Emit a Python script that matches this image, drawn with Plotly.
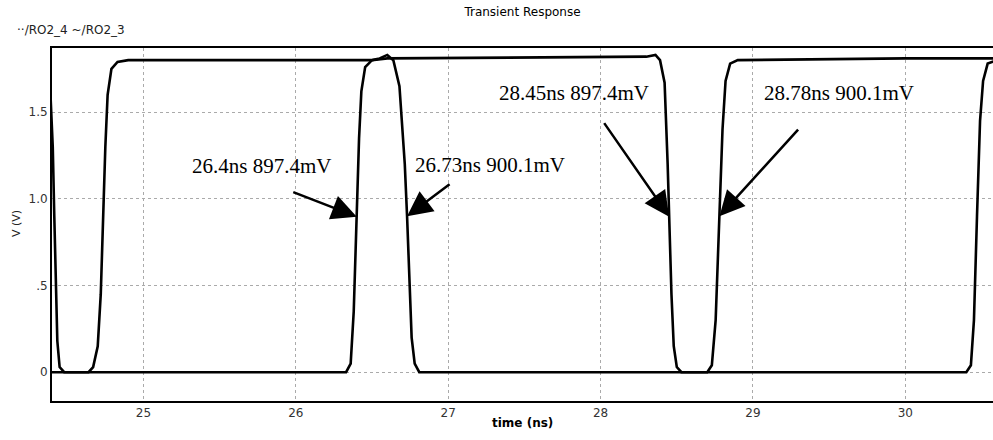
import plotly.graph_objects as go

# Node voltages of the ring oscillator (time in ns, voltage in V)
t_ro2_4 = [24.40, 24.64, 24.67, 24.70, 24.72, 24.735, 24.75, 24.765, 24.79, 24.83, 24.90,
           26.50, 26.55, 26.60, 26.64, 26.68, 26.715, 26.73, 26.745, 26.76, 26.78, 26.81,
           28.70, 28.73, 28.755, 28.78, 28.80, 28.82, 28.85, 28.90, 30.00, 30.60]
v_ro2_4 = [0.00, 0.00, 0.03, 0.15, 0.45, 0.90, 1.30, 1.60, 1.75, 1.79, 1.80,
           1.80, 1.81, 1.83, 1.80, 1.65, 1.20, 0.9001, 0.55, 0.20, 0.05, 0.00,
           0.00, 0.04, 0.30, 0.9001, 1.40, 1.68, 1.78, 1.80, 1.81, 1.81]

t_ro2_3 = [24.30, 24.37, 24.39, 24.405, 24.415, 24.425, 24.435, 24.45, 24.48,
           26.33, 26.36, 26.38, 26.40, 26.415, 26.43, 26.455, 26.50, 26.60,
           28.30, 28.36, 28.39, 28.42, 28.44, 28.45, 28.465, 28.48, 28.50, 28.53,
           30.40, 30.43, 30.45, 30.47, 30.49, 30.51, 30.54, 30.60]
v_ro2_3 = [1.80, 1.76, 1.60, 1.30, 0.90, 0.50, 0.18, 0.03, 0.00,
           0.00, 0.05, 0.35, 0.8974, 1.35, 1.62, 1.76, 1.80, 1.81,
           1.82, 1.83, 1.80, 1.67, 1.20, 0.8974, 0.45, 0.15, 0.03, 0.00,
           0.00, 0.04, 0.30, 0.90, 1.45, 1.68, 1.78, 1.80]

# Cursor readouts: crossing time (ns), crossing voltage (V), label
marker_t = [26.40, 26.73, 28.45, 28.78]
marker_v = [0.8974, 0.9001, 0.8974, 0.9001]
marker_text = ["26.4ns 897.4mV", "26.73ns 900.1mV", "28.45ns 897.4mV", "28.78ns 900.1mV"]

x_ticks = [25, 26, 27, 28, 29, 30]
y_ticks = [0, 0.5, 1.0, 1.5]
y_tick_text = ["0", ".5", "1.0", "1.5"]

fig = go.Figure()
fig.add_trace(go.Scatter(x=t_ro2_4, y=v_ro2_4, mode="lines", name="/RO2_4",
                         line=dict(color="black", width=2.6)))
fig.add_trace(go.Scatter(x=t_ro2_3, y=v_ro2_3, mode="lines", name="/RO2_3",
                         line=dict(color="black", width=2.6)))

# arrow offsets (pixels) from each crossing point to the arrow tail
arrow_off = [(-65, -25), (44, -33), (-66, -95), (80, -88)]
# label anchors (left edge, data coordinates)
label_pos = [(25.306, 1.189), (26.770, 1.195), (27.32, 1.61), (29.06, 1.61)]

annotations = []
for t, v, (ax, ay) in zip(marker_t, marker_v, arrow_off):
    annotations.append(dict(x=t, y=v, xref="x", yref="y", text="", showarrow=True,
                            ax=ax, ay=ay, arrowhead=2, arrowsize=2.0, arrowwidth=2.5,
                            arrowcolor="black", standoff=0))
for txt, (lx, ly) in zip(marker_text, label_pos):
    annotations.append(dict(x=lx, y=ly, xref="x", yref="y", text=txt, showarrow=False,
                            xanchor="left", yanchor="middle",
                            font=dict(family="Liberation Serif", size=21, color="black")))

sans = "DejaVu Sans"
annotations += [
    dict(x=-0.0393, y=1.051, xref="paper", yref="paper", text="\u00b7\u00b7/RO2_4 ~/RO2_3",
         showarrow=False, xanchor="left", yanchor="middle",
         font=dict(family=sans, size=12, color="#222")),
    dict(x=-0.0383, y=0.504, xref="paper", yref="paper", text="V (V)", textangle=-90,
         showarrow=False, xanchor="center", yanchor="middle",
         font=dict(family=sans, size=11, color="#222")),
    dict(x=0.5, y=-0.063, xref="paper", yref="paper", text="<b>time (ns)</b>",
         showarrow=False, xanchor="center", yanchor="middle",
         font=dict(family=sans, size=12, color="black")),
]

fig.update_layout(
    width=993, height=440,
    margin=dict(l=52, r=0, t=48, b=39),
    paper_bgcolor="white", plot_bgcolor="white",
    showlegend=False,
    title=dict(text="Transient Response", x=0.5, xref="paper", y=0.973, yref="container",
               xanchor="center", yanchor="middle",
               font=dict(family=sans, size=12, color="black")),
    annotations=annotations,
)
fig.update_xaxes(range=[24.40, 30.575], tickvals=x_ticks, ticks="",
                 showgrid=True, gridcolor="#aaa", griddash="dot", gridwidth=1,
                 zeroline=False, showline=True, linecolor="black", linewidth=2, mirror=True,
                 tickfont=dict(family=sans, size=12, color="#333"))
fig.update_yaxes(range=[-0.166, 1.870], tickvals=y_ticks, ticktext=y_tick_text, ticks="",
                 showgrid=True, gridcolor="#aaa", griddash="dot", gridwidth=1,
                 zeroline=False, showline=True, linecolor="black", linewidth=2,
                 tickfont=dict(family=sans, size=12, color="#333"))

fig.write_html("out.html")
